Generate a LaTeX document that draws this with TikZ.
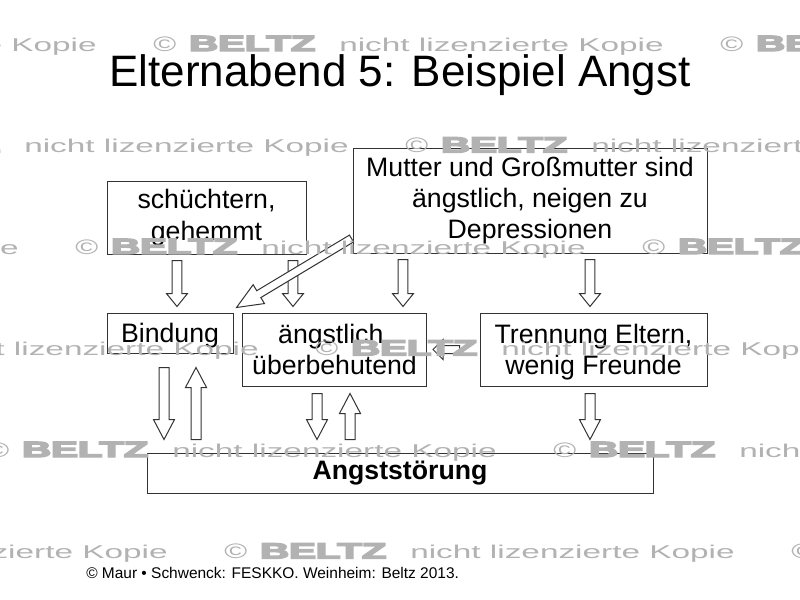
\documentclass[tikz,border=0pt]{standalone}
\usepackage{fontspec}
\setmainfont{Liberation Sans}
\newfontfamily\beltzfont[UprightFont={* Bold}, FakeBold=6]{Liberation Sans}
\usetikzlibrary{calc}
\definecolor{wmgray}{gray}{0.70}
\definecolor{linec}{gray}{0.2}
\tikzset{
  box/.style={draw=linec, line width=0.75pt, inner sep=2pt, align=center,
    font=\fontsize{20pt}{23.5pt}\selectfont},
  blockarr/.style={draw=linec, fill=white, line width=0.75pt, line join=miter},
  wmsym/.style={text=wmgray, inner sep=0pt, anchor=base west,
    font=\fontsize{15.75pt}{16pt}\selectfont},
  wmbig/.style={text=wmgray, inner sep=0pt, anchor=base west,
    font=\fontsize{16.5pt}{17pt}\beltzfont},
  wmsmall/.style={text=wmgray, inner sep=0pt, anchor=base west,
    font=\fontsize{13.9pt}{14pt}\selectfont},
  titletext/.style={anchor=base, inner sep=0pt, font=\fontsize{33pt}{36pt}\selectfont},
  foottext/.style={anchor=base west, inner sep=0pt, font=\fontsize{11.6pt}{13pt}\selectfont},
}
% lowered text, keeping its reported size
\newcommand\lowtext[1]{\raisebox{-2.25pt}[\height][\depth]{\begin{tabular}{@{}c@{}}#1\end{tabular}}}
% #1 start, #2 tip, #3 head length, #4 shaft half width, #5 head half width
\newcommand\blockarrow[5]{%
  \coordinate (baA) at #1;
  \coordinate (baB) at #2;
  \coordinate (baH) at ($(baB)!#3!(baA)$);
  \draw[blockarr] ($(baA)!#4!90:(baB)$) -- ($(baH)!#4!90:(baB)$)
    -- ($(baH)!#5!90:(baB)$) -- (baB) -- ($(baH)!#5!-90:(baB)$)
    -- ($(baH)!#4!-90:(baB)$) -- ($(baA)!#4!-90:(baB)$) -- cycle;
}
\begin{document}
\begin{tikzpicture}[x=0.75pt,y=-0.75pt]
\fill[white] (0,0) rectangle (800,600);
\useasboundingbox (0,0) rectangle (800,600);

\node[titletext] (title) at (400,86) {Elternabend 5: Beispiel Angst};

\node[box, minimum width=149.25pt, minimum height=54.75pt] (schu) at (206.5,217.5) {schüchtern,\\gehemmt};
\node[box, minimum width=265.5pt, minimum height=78.75pt] (mutter) at (530,200.5) {Mutter und Großmutter sind\\ängstlich, neigen zu\\Depressionen};
\node[box, minimum width=94.5pt, minimum height=30pt] (bind) at (170,333) {\lowtext{Bindung}};
\node[box, minimum width=138pt, minimum height=54.75pt] (aengst) at (334.5,349.5) {\lowtext{ängstlich,\\überbehutend}};
\node[box, minimum width=170.25pt, minimum height=54.75pt] (trenn) at (593.5,349.5) {\lowtext{Trennung Eltern,\\wenig Freunde}};
\node[box, minimum width=379.5pt, minimum height=30pt] (angst) at (400,473) {\bfseries Angststörung};

% upper arrows
\blockarrow{($(schu.south)+(-29.5,6)$)}{($(bind.north)+(7,-6)$)}{9.75pt}{3.6pt}{7.9pt}
\blockarrow{($(schu.south)+(86.5,6)$)}{($(aengst.north)+(-41.5,-6)$)}{9.75pt}{3.6pt}{7.9pt}
\blockarrow{($(mutter.south)+(-127,6)$)}{($(aengst.north)+(68.5,-6)$)}{9.75pt}{3.6pt}{7.9pt}
\blockarrow{($(mutter.south)+(60,6)$)}{($(trenn.north)+(-3.5,-6)$)}{9.75pt}{3.6pt}{7.9pt}
% diagonal arrow
\blockarrow{($(mutter.south west)+(-1,-15)$)}{($(bind.north east)+(3,-5)$)}{19.5pt}{3pt}{8.25pt}
% lower arrows
\blockarrow{($(bind.south)+(-6,14)$)}{($(angst.north)+(-236,-13)$)}{15pt}{3.75pt}{7.9pt}
\blockarrow{($(angst.north)+(-204,-13)$)}{($(bind.south)+(26,14)$)}{15pt}{3.75pt}{7.9pt}
\blockarrow{($(aengst.south)+(-17.5,7)$)}{($(angst.north)+(-83,-13)$)}{15pt}{3.75pt}{7.9pt}
\blockarrow{($(angst.north)+(-50,-13)$)}{($(aengst.south)+(15.5,7)$)}{15pt}{3.75pt}{7.9pt}
\blockarrow{($(trenn.south)+(-3.5,7)$)}{($(angst.north)+(190,-13)$)}{15pt}{3.75pt}{7.9pt}
% small arrow
\blockarrow{($(trenn.west)+(-20,0)$)}{($(aengst.east)+(6,0)$)}{7.5pt}{3pt}{7.5pt}

\node[foottext] (foot) at (86,578) {© Maur • Schwenck: FESKKO. Weinheim: Beltz 2013.};

% watermark
\begin{scope}
\clip (0,0) rectangle (800,600);
\foreach \c/\yy [count=\r] in {153/51,405/152.5,75/254,315/355.5,553/457,224/558.5}{
  \foreach \k in {-2,-1,0,1}{
    \pgfmathsetmacro\xx{\c+567*\k}
    \node[wmsym] (wmc\r\k) at (\xx,\yy) {\scalebox{1.48}[1]{©}};
    \node[wmbig] (wmb\r\k) at (\xx+36,\yy) {\scalebox{1.82}[1]{BELTZ}};
    \node[wmsmall] (wmt\r\k) at (\xx+186,\yy) {\scalebox{1.8}[1]{nicht lizenzierte Kopie}};
  }
}
\end{scope}
\end{tikzpicture}
\end{document}
